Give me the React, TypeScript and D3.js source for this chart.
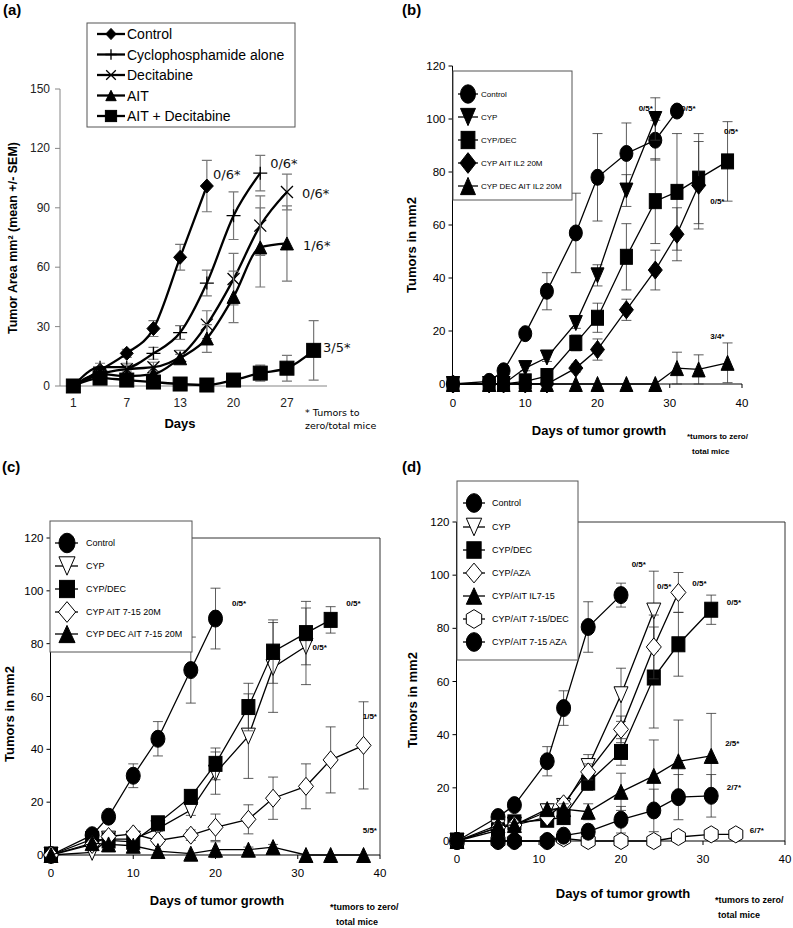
import React from "react";
import * as d3 from "d3";

const FONT = "'Liberation Sans', Arial, Helvetica, sans-serif";
const VFONT = "'DejaVu Sans', Verdana, sans-serif";

// ---------------- Panel (a) ----------------
const aDays = ["1", "4", "7", "10", "13", "17", "20", "24", "27", "31"];
const aYTicks = [0, 30, 60, 90, 120, 150];
const aNames = ["Control", "Cyclophosphamide alone", "Decitabine", "AIT", "AIT + Decitabine"];
const aControl = [0, 8, 16.5, 29, 65, 101];
const aControlErr = [0, 1, 2, 4, 6.5, 13];
const aCyclo = [0, 9.5, 9.5, 16.5, 27, 52, 86, 107.5];
const aCycloErr = [0, 2, 2, 3, 3.5, 6.5, 12, 9];
const aDecit = [0, 6, 8.5, 9.5, 15, 31, 54, 81, 98];
const aDecitErr = [0, 1, 2, 2.5, 3, 7, 13, 15, 9];
const aAIT = [0, 6, 5, 6, 14, 24, 45, 70, 72];
const aAITErr = [0, 1, 1, 1.5, 2, 7, 13, 20, 19];
const aAITDec = [0, 4, 3, 2, 1, 0.5, 3, 6.5, 9, 18];
const aAITDecErr = [0, 1, 1, 1, 0.5, 0.5, 1, 4, 6.5, 15];
const aNoteText = ["0/6*", "0/6*", "0/6*", "1/6*", "3/5*"];
const aNoteIdx = [5.23, 7.37, 8.56, 8.6, 9.35];
const aNoteVal = [104.5, 110, 95, 68.7, 17];

// ---------------- shared ticks ----------------
const numXTicks = [0, 10, 20, 30, 40];
const numYTicks = [0, 20, 40, 60, 80, 100, 120];

// ---------------- Panel (b) ----------------
const bDays = [0, 5, 7, 10, 13, 17, 20, 24, 28, 31, 34, 38];
const bNames = ["Control", "CYP", "CYP/DEC", "CYP AIT IL2 20M", "CYP DEC AIT IL2 20M"];
const bControl = [0, 1, 5, 19, 35, 57, 78, 87, 92, 103];
const bControlErr = [0, 0, 0, 0, 7, 15, 16.5, 11.5, 7.5, 2];
const bCyp = [0, 0, 0, 6, 10, 23, 41, 73, 100];
const bCypErr = [0, 0, 0, 1, 1.5, 2, 4, 6, 8];
const bCypDec = [0, 0, 0, 1, 3, 15.5, 25, 48, 69, 72.5, 77.5, 84];
const bCypDecErr = [0, 0, 0, 0.5, 1, 3, 5.5, 12.5, 16, 22, 17, 15];
const bCypAit = [0, 0, 0, 0, 0, 6, 13, 28, 43, 56.5, 75];
const bCypAitErr = [0, 0, 0, 0, 0, 1.5, 4, 4, 7.5, 10, 16.5];
const bCypDecAit = [0, 0, 0, 0, 0, 0, 0, 0, 0, 6, 5.5, 8];
const bCypDecAitErr = [0, 0, 0, 0, 0, 0, 0, 0, 0, 6, 5.5, 7.5];
const bNoteText = ["0/5*", "0/5*", "0/5*", "0/5*", "3/4*"];
const bNoteDay = [25.7, 31.6, 37.5, 35.6, 35.6];
const bNoteVal = [103, 103, 94.5, 68, 17];

// ---------------- Panel (c) ----------------
const cDays = [0, 5, 7, 10, 13, 17, 20, 24, 27, 31, 34, 38];
const cNames = ["Control", "CYP", "CYP/DEC", "CYP AIT 7-15 20M", "CYP DEC AIT 7-15 20M"];
const cControl = [0, 7.5, 14.5, 30, 44, 70, 89.5];
const cControlErr = [0, 1, 1.5, 4.5, 6.5, 12.5, 11.5];
const cCyp = [0, 1, 6, 6, 10, 17, 31, 45, 71, 79];
const cCypErr = [0, 0, 0, 0, 1, 2, 8, 16, 17, 14.5];
const cCypDec = [0, 6, 5.5, 5, 12, 22, 34.5, 56, 77, 84, 89];
const cCypDecErr = [0, 0, 0, 0, 1, 2, 6, 9, 12, 12, 5];
const cCypAit = [0, 4, 7, 8, 5.5, 7.5, 10.5, 13.5, 21.5, 26, 36, 41.5];
const cCypAitErr = [0, 0, 1, 1, 1.5, 2, 5, 5.5, 8, 8.5, 12.5, 16.5];
const cCypDecAit = [0, 4.5, 4, 3.5, 1.5, 0.5, 2, 2, 3, 0, 0, 0];
const cCypDecAitErr = [0, 0, 0, 0, 0, 0, 3, 1, 1, 0, 0, 0];
const cNoteText = ["0/5*", "0/5*", "0/5*", "1/5*", "5/5*"];
const cNoteDay = [22, 35.9, 31.8, 37.9, 37.9];
const cNoteVal = [94.3, 94.3, 77.6, 51.5, 8.3];

// ---------------- Panel (d) ----------------
const dDays = [0, 5, 7, 11, 13, 16, 20, 24, 27, 31, 34];
const dNames = ["Control", "CYP", "CYP/DEC", "CYP/AZA", "CYP/AIT IL7-15", "CYP/AIT 7-15/DEC", "CYP/AIT 7-15 AZA"];
const dControl = [0, 9, 13.5, 30, 50, 80.5, 92.5];
const dControlErr = [0, 0, 0, 5.5, 6.5, 9.5, 4.5];
const dCyp = [0, 5, 6, 11, 13, 28, 55, 86.5];
const dCypErr = [0, 0, 0, 0, 1, 4.5, 10, 15];
const dCypDec = [0, 4, 7, 8, 9, 22, 33.5, 61.5, 74, 87];
const dCypDecErr = [0, 0, 0, 0, 1, 3, 5, 19, 12, 5.5];
const dCypAza = [0, 5, 6, 9, 14, 26, 42, 73, 93.5];
const dCypAzaErr = [0, 0, 0, 1, 1.5, 3, 5, 12, 7.5];
const dCypAit = [0, 6, 6, 12, 12, 11, 18.5, 24.5, 30, 32];
const dCypAitErr = [0, 1, 1, 2, 2, 3, 7, 13.5, 15.5, 16];
const dCypAitDec = [0, 0, 0, 0, 1, 0, 0, 0, 1.5, 2.5, 2.5];
const dCypAitDecErr = [0, 0, 0, 0, 0, 0, 0, 0, 0.5, 0.5, 0];
const dCypAitAza = [0, 0, 0, 0, 2, 3.5, 8, 11.5, 16.5, 17];
const dCypAitAzaErr = [0, 0, 0, 0, 1, 2.5, 5, 8, 8.5, 8];
const dNoteText = ["0/5*", "0/5*", "0/5*", "0/5*", "2/5*", "2/7*", "6/7*"];
const dNoteDay = [21.3, 24.4, 28.7, 32.9, 32.7, 32.9, 35.7];
const dNoteVal = [103, 94.7, 95.9, 88.7, 35.7, 19, 3];

type Shape = "circle" | "square" | "diamond" | "triUp" | "triDown" | "hexagon" | "plus" | "cross";
type Series = { name: string; v: number[]; e: number[]; shape: Shape; open?: boolean };

function Marker(props: { shape: Shape; cx: number; cy: number; w: number; h: number; open?: boolean; sw?: number }) {
  const { shape, cx, cy, w, h, open } = props;
  const sw = props.sw ?? 1;
  const p = { fill: open ? "#fff" : "#000", stroke: "#000", strokeWidth: sw };
  const hw = w / 2, hh = h / 2;
  switch (shape) {
    case "circle":
      return <ellipse cx={cx} cy={cy} rx={hw} ry={hh} {...p} />;
    case "square":
      return <rect x={cx - hw} y={cy - hh} width={w} height={h} {...p} />;
    case "diamond":
      return <path d={`M${cx},${cy - hh}L${cx + hw},${cy}L${cx},${cy + hh}L${cx - hw},${cy}Z`} {...p} />;
    case "triUp":
      return <path d={`M${cx},${cy - hh}L${cx + hw},${cy + hh}L${cx - hw},${cy + hh}Z`} {...p} />;
    case "triDown":
      return <path d={`M${cx},${cy + hh}L${cx + hw},${cy - hh}L${cx - hw},${cy - hh}Z`} {...p} />;
    case "hexagon":
      return (
        <path
          d={`M${cx},${cy - hh}L${cx + hw},${cy - hh / 2}L${cx + hw},${cy + hh / 2}L${cx},${cy + hh}L${cx - hw},${cy + hh / 2}L${cx - hw},${cy - hh / 2}Z`}
          {...p}
        />
      );
    case "plus":
      return <path d={`M${cx - hw},${cy}H${cx + hw}M${cx},${cy - hh}V${cy + hh}`} stroke="#000" strokeWidth={1.3} fill="none" />;
    case "cross":
      return (
        <path
          d={`M${cx - hw},${cy - hh}L${cx + hw},${cy + hh}M${cx + hw},${cy - hh}L${cx - hw},${cy + hh}`}
          stroke="#000"
          strokeWidth={1.3}
          fill="none"
        />
      );
  }
  return null;
}

function ErrBar(props: { x: number; y0: number; y1: number; cap: number; color: string; sw: number }) {
  const { x, y0, y1, cap, color, sw } = props;
  return (
    <path
      d={`M${x},${y0}V${y1}M${x - cap},${y0}H${x + cap}M${x - cap},${y1}H${x + cap}`}
      stroke={color}
      strokeWidth={sw}
      fill="none"
    />
  );
}

// ---------------- Panel A ----------------
function PanelA() {
  const x = d3.scalePoint<number>().domain(d3.range(aDays.length)).range([60, 327]).padding(0.5);
  const step = x.step();
  const xf = (i: number) => (x(0) as number) + i * step;
  const y = d3.scaleLinear().domain([0, 150]).range([386, 89]);
  const series: Series[] = [
    { name: aNames[0], v: aControl, e: aControlErr, shape: "diamond" },
    { name: aNames[1], v: aCyclo, e: aCycloErr, shape: "plus" },
    { name: aNames[2], v: aDecit, e: aDecitErr, shape: "cross" },
    { name: aNames[3], v: aAIT, e: aAITErr, shape: "triUp" },
    { name: aNames[4], v: aAITDec, e: aAITDecErr, shape: "square" },
  ];
  const sizes: Record<string, [number, number]> = {
    diamond: [13, 14],
    plus: [14, 13],
    cross: [12, 12],
    triUp: [13, 13],
    square: [14, 14],
  };
  const line = d3
    .line<number>()
    .x((_, i) => xf(i))
    .y((d) => y(d))
    .curve(d3.curveMonotoneX);
  const axisColor = "#868686";
  const legendRows = [34, 54.5, 75, 95.5, 116];
  return (
    <g>
      <text x={3} y={15} fontFamily={FONT} fontWeight="bold" fontSize={15}>(a)</text>
      {/* y axis */}
      <line x1={60} x2={60} y1={y(150)} y2={y(0)} stroke={axisColor} strokeWidth={1} />
      {aYTicks.map((t) => (
        <g key={"ayt" + t}>
          <line x1={55} x2={60} y1={y(t)} y2={y(t)} stroke={axisColor} />
          <text x={50} y={y(t) + 4} textAnchor="end" fontFamily={FONT} fontSize={12} fill="#222">{t}</text>
        </g>
      ))}
      <line x1={60} x2={327} y1={y(0)} y2={y(0)} stroke={axisColor} strokeWidth={1} />
      {aDays.map((d, i) =>
        i % 2 === 0 ? (
          <text key={"axt" + i} x={xf(i)} y={407} textAnchor="middle" fontFamily={FONT} fontSize={12} fill="#222">{d}</text>
        ) : null
      )}
      <text x={180} y={428} textAnchor="middle" fontFamily={FONT} fontWeight="bold" fontSize={13}>Days</text>
      <text
        transform={`translate(17,238) rotate(-90)`}
        textAnchor="middle"
        fontFamily={FONT}
        fontWeight="bold"
        fontSize={12.5}
      >
        Tumor Area mm² (mean +/- SEM)
      </text>
      {/* data */}
      {series.map((s, si) => (
        <g key={"as" + si}>
          {s.v.map((v, i) =>
            s.e[i] > 0 ? (
              <ErrBar key={"ae" + i} x={xf(i)} y0={y(v - s.e[i])} y1={y(v + s.e[i])} cap={5} color="#777" sw={1.2} />
            ) : null
          )}
          <path d={line(s.v) || ""} fill="none" stroke="#000" strokeWidth={2.3} />
          {s.v.map((v, i) => (
            <Marker key={"am" + i} shape={s.shape} cx={xf(i)} cy={y(v)} w={sizes[s.shape][0]} h={sizes[s.shape][1]} />
          ))}
        </g>
      ))}
      {aNoteText.map((t, i) => (
        <text key={"an" + i} x={xf(aNoteIdx[i])} y={y(aNoteVal[i])} fontFamily={VFONT} fontSize={13} fill="#111">{t}</text>
      ))}
      <text x={305} y={416} fontFamily={VFONT} fontSize={9.5}>* Tumors to</text>
      <text x={305} y={429} fontFamily={VFONT} fontSize={9.5}>zero/total mice</text>
      {/* legend */}
      <rect x={87} y={23} width={208} height={104} fill="#fff" stroke="#555" strokeWidth={1} />
      {series.map((s, i) => (
        <g key={"al" + i}>
          <line x1={97} x2={125} y1={legendRows[i]} y2={legendRows[i]} stroke="#000" strokeWidth={2.3} />
          <Marker shape={s.shape} cx={111} cy={legendRows[i]} w={sizes[s.shape][0] * 0.8} h={sizes[s.shape][1] * 0.8} />
          <text x={127} y={legendRows[i] + 5} fontFamily={FONT} fontSize={14}>{s.name}</text>
        </g>
      ))}
    </g>
  );
}

// ---------------- Generic panel (b, c, d) ----------------
type Cfg = {
  label: string;
  labelPos: [number, number];
  days: number[];
  series: Series[];
  xr: [number, number];
  yr: [number, number];
  frame: boolean;
  sizes: Record<string, [number, number]>;
  legendBox: [number, number, number, number];
  legendRows: number[];
  legendLine: [number, number];
  legendMark: number;
  legendText: number;
  legendFont: number;
  legendScale: number;
  notes: { t: string[]; d: number[]; v: number[] };
  noteFont: number;
  xTitle: [number, number];
  yTitle: [number, number];
  foot: [number, number, number, number];
  footFont: number;
  tickFont: number;
  xLabelOffset: number;
};

function Panel({ cfg }: { cfg: Cfg }) {
  const x = d3.scaleLinear().domain([0, 40]).range(cfg.xr);
  const y = d3.scaleLinear().domain([0, 120]).range(cfg.yr);
  const ax = x(0) - 0.5;
  const line = d3
    .line<number>()
    .x((_, i) => x(cfg.days[i]))
    .y((d) => y(d));
  const [lx0, ly0, lx1, ly1] = cfg.legendBox;
  return (
    <g>
      <text x={cfg.labelPos[0]} y={cfg.labelPos[1]} fontFamily={FONT} fontWeight="bold" fontSize={15}>{cfg.label}</text>
      {cfg.frame ? (
        <path
          d={`M${ax},${y(120)}H${x(40)}V${y(0)}`}
          fill="none"
          stroke="#333"
          strokeWidth={1}
        />
      ) : null}
      {/* axes */}
      <line x1={ax} x2={ax} y1={y(120)} y2={y(0)} stroke="#000" strokeWidth={1} />
      <line x1={ax} x2={x(40)} y1={y(0)} y2={y(0)} stroke="#000" strokeWidth={1} />
      {numYTicks.map((t) => (
        <g key={"yt" + t}>
          <line x1={ax - 4} x2={ax} y1={y(t)} y2={y(t)} stroke="#000" />
          <text x={ax - 7} y={y(t) + 4} textAnchor="end" fontFamily={FONT} fontSize={cfg.tickFont}>{t}</text>
        </g>
      ))}
      {numXTicks.map((t) => (
        <g key={"xt" + t}>
          <line x1={x(t)} x2={x(t)} y1={y(0)} y2={y(0) + 4} stroke="#000" />
          <text x={x(t)} y={y(0) + cfg.xLabelOffset} textAnchor="middle" fontFamily={FONT} fontSize={cfg.tickFont}>{t}</text>
        </g>
      ))}
      <text x={cfg.xTitle[0]} y={cfg.xTitle[1]} textAnchor="middle" fontFamily={FONT} fontWeight="bold" fontSize={13}>
        Days of tumor growth
      </text>
      <text
        transform={`translate(${cfg.yTitle[0]},${cfg.yTitle[1]}) rotate(-90)`}
        textAnchor="middle"
        fontFamily={FONT}
        fontWeight="bold"
        fontSize={13}
      >
        Tumors in mm2
      </text>
      <text x={cfg.foot[0]} y={cfg.foot[1]} fontFamily={FONT} fontWeight="bold" fontSize={cfg.footFont}>*tumors to zero/</text>
      <text x={cfg.foot[2]} y={cfg.foot[3]} fontFamily={FONT} fontWeight="bold" fontSize={cfg.footFont}>total mice</text>
      {/* data */}
      {cfg.series.map((s, si) => (
        <g key={"s" + si}>
          {s.v.map((v, i) =>
            s.e[i] > 0 ? (
              <ErrBar key={"e" + i} x={x(cfg.days[i])} y0={y(v - s.e[i])} y1={y(v + s.e[i])} cap={5} color="#333" sw={0.8} />
            ) : null
          )}
          <path d={line(s.v) || ""} fill="none" stroke="#000" strokeWidth={1.3} />
          {s.v.map((v, i) => (
            <Marker
              key={"m" + i}
              shape={s.shape}
              open={s.open}
              cx={x(cfg.days[i])}
              cy={y(v)}
              w={cfg.sizes[s.shape][0]}
              h={cfg.sizes[s.shape][1]}
            />
          ))}
        </g>
      ))}
      {cfg.notes.t.map((t, i) => (
        <text key={"n" + i} x={x(cfg.notes.d[i])} y={y(cfg.notes.v[i])} fontFamily={FONT} fontWeight="bold" fontSize={cfg.noteFont}>{t}</text>
      ))}
      {/* legend */}
      <rect x={lx0} y={ly0} width={lx1 - lx0} height={ly1 - ly0} fill="#fff" stroke="#555" strokeWidth={1} />
      {cfg.series.map((s, i) => (
        <g key={"l" + i}>
          <line x1={cfg.legendLine[0]} x2={cfg.legendLine[1]} y1={cfg.legendRows[i]} y2={cfg.legendRows[i]} stroke="#000" strokeWidth={1.3} />
          <Marker
            shape={s.shape}
            open={s.open}
            cx={cfg.legendMark}
            cy={cfg.legendRows[i]}
            w={cfg.sizes[s.shape][0] * cfg.legendScale}
            h={cfg.sizes[s.shape][1] * cfg.legendScale}
          />
          <text x={cfg.legendText} y={cfg.legendRows[i] + 3} fontFamily={FONT} fontSize={cfg.legendFont}>{s.name}</text>
        </g>
      ))}
    </g>
  );
}

const sizeB: Record<string, [number, number]> = {
  circle: [13, 16], square: [12, 15], diamond: [14, 18], triUp: [13, 15], triDown: [13, 15], hexagon: [14, 17],
};
const sizeCD: Record<string, [number, number]> = {
  circle: [14, 17], square: [13, 15], diamond: [15, 18], triUp: [14, 15], triDown: [14, 16], hexagon: [14, 17],
};

const cfgB: Cfg = {
  label: "(b)",
  labelPos: [402, 15],
  days: bDays,
  series: [
    { name: bNames[0], v: bControl, e: bControlErr, shape: "circle" },
    { name: bNames[1], v: bCyp, e: bCypErr, shape: "triDown" },
    { name: bNames[2], v: bCypDec, e: bCypDecErr, shape: "square" },
    { name: bNames[3], v: bCypAit, e: bCypAitErr, shape: "diamond" },
    { name: bNames[4], v: bCypDecAit, e: bCypDecAitErr, shape: "triUp" },
  ],
  xr: [453, 742],
  yr: [384, 66],
  frame: false,
  sizes: sizeB,
  legendBox: [453, 71, 572, 200],
  legendRows: [94, 117, 140, 163, 186],
  legendLine: [458, 478],
  legendMark: 468,
  legendText: 481,
  legendFont: 8,
  legendScale: 1.15,
  notes: { t: bNoteText, d: bNoteDay, v: bNoteVal },
  noteFont: 8,
  xTitle: [599, 435],
  yTitle: [416, 245],
  foot: [687, 439, 692, 454],
  footFont: 8,
  tickFont: 11.5,
  xLabelOffset: 23,
};

const cfgC: Cfg = {
  label: "(c)",
  labelPos: [2, 472],
  days: cDays,
  series: [
    { name: cNames[0], v: cControl, e: cControlErr, shape: "circle" },
    { name: cNames[1], v: cCyp, e: cCypErr, shape: "triDown", open: true },
    { name: cNames[2], v: cCypDec, e: cCypDecErr, shape: "square" },
    { name: cNames[3], v: cCypAit, e: cCypAitErr, shape: "diamond", open: true },
    { name: cNames[4], v: cCypDecAit, e: cCypDecAitErr, shape: "triUp" },
  ],
  xr: [51, 380],
  yr: [855, 538],
  frame: true,
  sizes: sizeCD,
  legendBox: [50, 521, 192, 652],
  legendRows: [543, 566, 589, 612, 634],
  legendLine: [55, 78],
  legendMark: 67,
  legendText: 86,
  legendFont: 9,
  legendScale: 1.15,
  notes: { t: cNoteText, d: cNoteDay, v: cNoteVal },
  noteFont: 8,
  xTitle: [217, 905],
  yTitle: [14, 714],
  foot: [330, 910, 336, 925],
  footFont: 9,
  tickFont: 11.5,
  xLabelOffset: 22,
};

const cfgD: Cfg = {
  label: "(d)",
  labelPos: [402, 472],
  days: dDays,
  series: [
    { name: dNames[0], v: dControl, e: dControlErr, shape: "circle" },
    { name: dNames[1], v: dCyp, e: dCypErr, shape: "triDown", open: true },
    { name: dNames[2], v: dCypDec, e: dCypDecErr, shape: "square" },
    { name: dNames[3], v: dCypAza, e: dCypAzaErr, shape: "diamond", open: true },
    { name: dNames[4], v: dCypAit, e: dCypAitErr, shape: "triUp" },
    { name: dNames[5], v: dCypAitDec, e: dCypAitDecErr, shape: "hexagon", open: true },
    { name: dNames[6], v: dCypAitAza, e: dCypAitAzaErr, shape: "circle" },
  ],
  xr: [457, 785],
  yr: [841, 522],
  frame: true,
  sizes: sizeCD,
  legendBox: [457, 481, 578, 660],
  legendRows: [503, 527, 550, 573, 596, 619, 642],
  legendLine: [463, 485],
  legendMark: 474,
  legendText: 492,
  legendFont: 9,
  legendScale: 1.1,
  notes: { t: dNoteText, d: dNoteDay, v: dNoteVal },
  noteFont: 8,
  xTitle: [623, 898],
  yTitle: [417, 700],
  foot: [715, 903, 718, 918],
  footFont: 9,
  tickFont: 11.5,
  xLabelOffset: 22,
};

export default function App() {
  return (
    <svg
      width={793}
      height={928}
      viewBox="0 0 793 928"
      style={{ position: "absolute", left: 0, top: 0, background: "#fff" }}
    >
      <rect x={0} y={0} width={793} height={928} fill="#fff" />
      <PanelA />
      <Panel cfg={cfgB} />
      <Panel cfg={cfgC} />
      <Panel cfg={cfgD} />
    </svg>
  );
}
